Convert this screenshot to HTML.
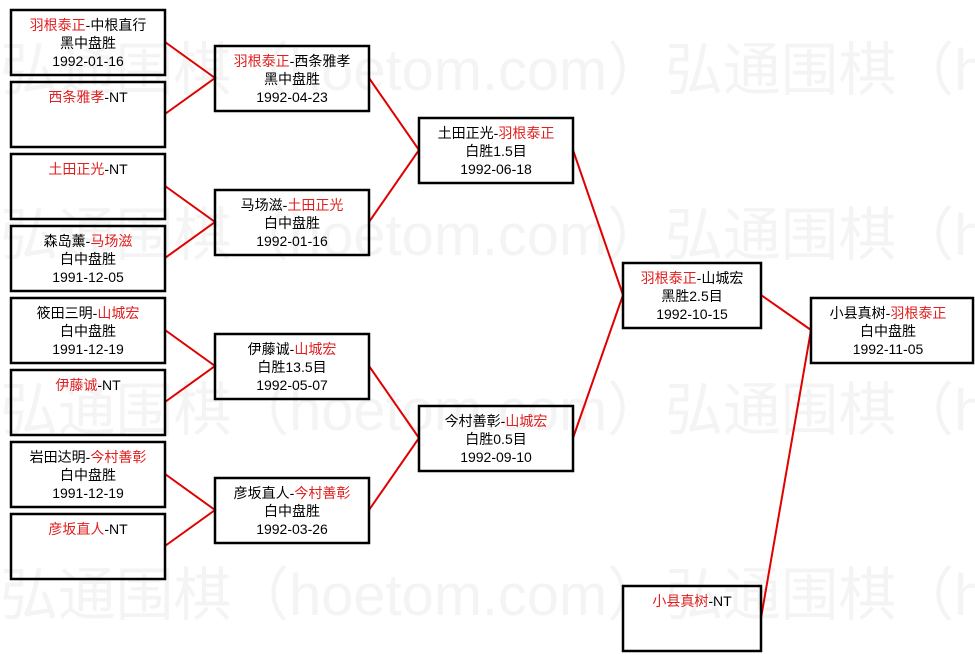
<!DOCTYPE html>
<html><head><meta charset="utf-8"><style>
html,body{margin:0;padding:0;background:#fff;}
svg{display:block;}
text{font-family:"Liberation Sans","Noto Sans CJK SC",sans-serif;}
.t{font-size:14px;fill:#000;text-anchor:middle;}
.r{fill:#e02020;}
.b{fill:#fff;fill-opacity:0;stroke:#000;stroke-width:2.5;}
.l{stroke:#e00000;stroke-width:2;fill:none;}
.w{font-size:58px;fill:#f4f4f4;font-family:"Liberation Serif","Noto Serif CJK SC",serif;}
</style></head><body>
<svg width="975" height="661" viewBox="0 0 975 661" xmlns="http://www.w3.org/2000/svg">
<g class="w">
<text x="0" y="90" textLength="665" lengthAdjust="spacingAndGlyphs">弘通围棋（hoetom.com）</text><text x="665" y="90" textLength="665" lengthAdjust="spacingAndGlyphs">弘通围棋（hoetom.com）</text>
<text x="0" y="255" textLength="665" lengthAdjust="spacingAndGlyphs">弘通围棋（hoetom.com）</text><text x="665" y="255" textLength="665" lengthAdjust="spacingAndGlyphs">弘通围棋（hoetom.com）</text>
<text x="0" y="430" textLength="665" lengthAdjust="spacingAndGlyphs">弘通围棋（hoetom.com）</text><text x="665" y="430" textLength="665" lengthAdjust="spacingAndGlyphs">弘通围棋（hoetom.com）</text>
<text x="0" y="615" textLength="665" lengthAdjust="spacingAndGlyphs">弘通围棋（hoetom.com）</text><text x="665" y="615" textLength="665" lengthAdjust="spacingAndGlyphs">弘通围棋（hoetom.com）</text>
</g>
<g class="l">
<polyline points="165,42 215,78 165,114"/>
<polyline points="165,186 215,222 165,258"/>
<polyline points="165,330 215,366 165,402"/>
<polyline points="165,474 215,510 165,546"/>
<polyline points="369,78 419,150 369,222"/>
<polyline points="369,366 419,438 369,510"/>
<polyline points="573,150 623,295 573,438"/>
<polyline points="761,295 811,330 761,618"/>
</g>
<g>
<rect class="b" x="11" y="10" width="154" height="65"/>
<rect class="b" x="11" y="82" width="154" height="65"/>
<rect class="b" x="11" y="154" width="154" height="65"/>
<rect class="b" x="11" y="226" width="154" height="65"/>
<rect class="b" x="11" y="298" width="154" height="65"/>
<rect class="b" x="11" y="370" width="154" height="65"/>
<rect class="b" x="11" y="442" width="154" height="65"/>
<rect class="b" x="11" y="514" width="154" height="65"/>
<rect class="b" x="215" y="46" width="154" height="65"/>
<rect class="b" x="215" y="190" width="154" height="65"/>
<rect class="b" x="215" y="334" width="154" height="65"/>
<rect class="b" x="215" y="478" width="154" height="65"/>
<rect class="b" x="419" y="118" width="154" height="65"/>
<rect class="b" x="419" y="406" width="154" height="65"/>
<rect class="b" x="623" y="263" width="138" height="65"/>
<rect class="b" x="811" y="298" width="162" height="65"/>
<rect class="b" x="623" y="586" width="138" height="65"/>
</g>
<g class="t">
<text x="88" y="30"><tspan class="r">羽根泰正</tspan>-中根直行</text><text x="88" y="48">黑中盘胜</text><text x="88" y="66">1992-01-16</text>
<text x="88" y="102"><tspan class="r">西条雅孝</tspan>-NT</text>
<text x="88" y="174"><tspan class="r">土田正光</tspan>-NT</text>
<text x="88" y="246">森岛薰-<tspan class="r">马场滋</tspan></text><text x="88" y="264">白中盘胜</text><text x="88" y="282">1991-12-05</text>
<text x="88" y="318">筱田三明-<tspan class="r">山城宏</tspan></text><text x="88" y="336">白中盘胜</text><text x="88" y="354">1991-12-19</text>
<text x="88" y="390"><tspan class="r">伊藤诚</tspan>-NT</text>
<text x="88" y="462">岩田达明-<tspan class="r">今村善彰</tspan></text><text x="88" y="480">白中盘胜</text><text x="88" y="498">1991-12-19</text>
<text x="88" y="534"><tspan class="r">彦坂直人</tspan>-NT</text>
<text x="292" y="66"><tspan class="r">羽根泰正</tspan>-西条雅孝</text><text x="292" y="84">黑中盘胜</text><text x="292" y="102">1992-04-23</text>
<text x="292" y="210">马场滋-<tspan class="r">土田正光</tspan></text><text x="292" y="228">白中盘胜</text><text x="292" y="246">1992-01-16</text>
<text x="292" y="354">伊藤诚-<tspan class="r">山城宏</tspan></text><text x="292" y="372">白胜13.5目</text><text x="292" y="390">1992-05-07</text>
<text x="292" y="498">彦坂直人-<tspan class="r">今村善彰</tspan></text><text x="292" y="516">白中盘胜</text><text x="292" y="534">1992-03-26</text>
<text x="496" y="138">土田正光-<tspan class="r">羽根泰正</tspan></text><text x="496" y="156">白胜1.5目</text><text x="496" y="174">1992-06-18</text>
<text x="496" y="426">今村善彰-<tspan class="r">山城宏</tspan></text><text x="496" y="444">白胜0.5目</text><text x="496" y="462">1992-09-10</text>
<text x="692" y="283"><tspan class="r">羽根泰正</tspan>-山城宏</text><text x="692" y="301">黑胜2.5目</text><text x="692" y="319">1992-10-15</text>
<text x="888" y="318">小县真树-<tspan class="r">羽根泰正</tspan></text><text x="888" y="336">白中盘胜</text><text x="888" y="354">1992-11-05</text>
<text x="692" y="606"><tspan class="r">小县真树</tspan>-NT</text>
</g>
</svg>
</body></html>
